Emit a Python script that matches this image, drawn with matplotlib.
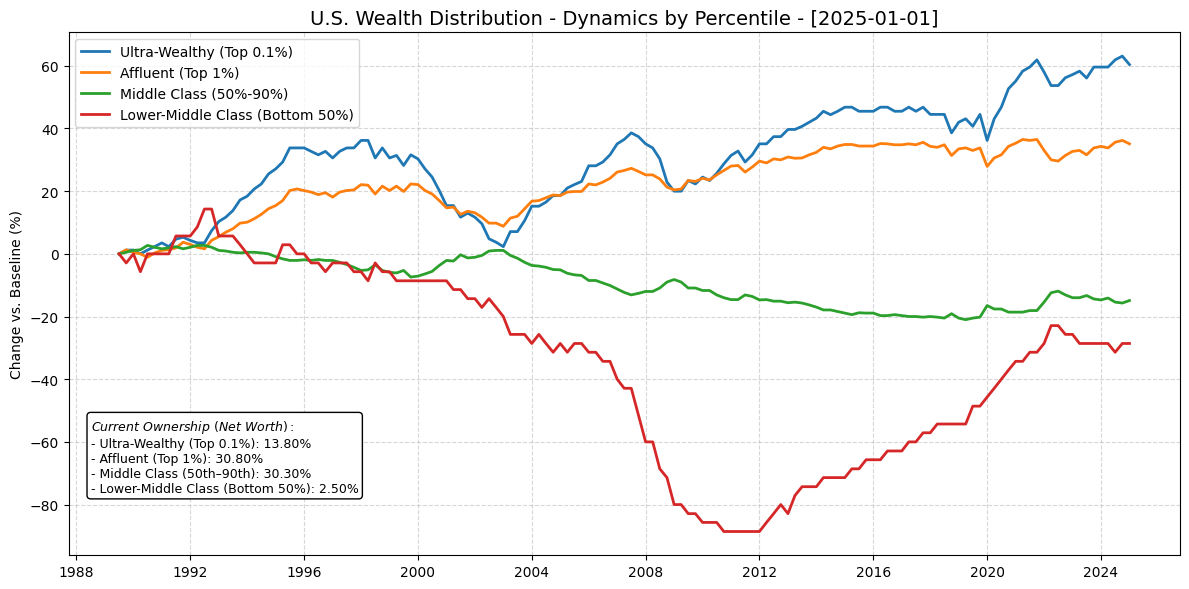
import matplotlib
matplotlib.use("Agg")
import matplotlib.pyplot as plt
import pandas as pd

start_date = "1989-07-01"
n_quarters = 143

ultra_wealthy = [0, 1.2, 1.2, 0, 1.2, 2.3, 3.5, 2.3, 4.7, 5.3,
                 4.3, 3.5, 3.5, 7.4, 10.3, 11.7, 13.8, 17.2, 18.4, 20.7,
                 22.3, 25.5, 27.1, 29.3, 33.8, 33.8, 33.8, 32.7, 31.6, 32.7,
                 30.6, 32.7, 33.8, 33.8, 36.2, 36.2, 30.6, 33.8, 30.6, 31.4,
                 28.2, 31.6, 30.3, 27.1, 24.5, 20.2, 15.4, 15.4, 11.7, 13.0,
                 11.7, 9.6, 4.8, 3.7, 2.3, 7.1, 7.1, 10.6, 15.2, 15.2,
                 16.5, 18.6, 18.6, 21.0, 22.1, 23.1, 28.1, 28.1, 29.3, 31.6,
                 35.1, 36.5, 38.6, 37.4, 35.1, 33.8, 30.3, 22.9, 20.0, 20.0,
                 23.4, 22.3, 24.5, 23.4, 25.7, 28.7, 31.4, 32.8, 29.3, 31.6,
                 35.1, 35.1, 37.4, 37.4, 39.7, 39.7, 40.7, 42.0, 43.3, 45.5,
                 44.4, 45.5, 46.8, 46.8, 45.5, 45.5, 45.5, 46.8, 46.8, 45.5,
                 45.5, 46.8, 45.5, 46.8, 44.5, 44.5, 44.5, 38.6, 42.0, 43.1,
                 40.7, 44.5, 36.2, 43.1, 46.8, 52.7, 55.1, 58.3, 59.6, 61.9,
                 58.0, 53.7, 53.7, 56.2, 57.2, 58.3, 56.1, 59.6, 59.6, 59.6,
                 61.9, 63.1, 60.4]

affluent = [0, 1.3, 0.5, 0, -1.1, 0.3, 1.1, 1.3, 1.9, 3.7,
            3.0, 2.1, 1.6, 4.3, 5.5, 6.9, 8.0, 9.8, 10.1, 11.2,
            12.6, 14.4, 15.4, 17.0, 20.2, 20.7, 20.2, 19.7, 18.9, 19.5,
            18.1, 19.7, 20.2, 20.4, 22.1, 21.9, 19.1, 21.6, 20.2, 21.6,
            19.9, 22.3, 22.1, 20.2, 19.1, 17.0, 14.7, 14.9, 12.6, 13.6,
            13.1, 11.7, 9.8, 9.8, 8.8, 11.4, 12.0, 14.4, 16.8, 17.0,
            17.9, 18.8, 18.6, 19.7, 19.9, 19.9, 22.3, 22.0, 22.9, 24.1,
            26.1, 26.6, 27.3, 26.3, 25.2, 25.2, 23.9, 21.3, 20.4, 20.7,
            23.4, 23.1, 24.1, 23.6, 25.2, 26.6, 28.0, 28.2, 26.1, 27.7,
            29.6, 29.0, 30.3, 30.0, 30.9, 30.5, 30.6, 31.6, 32.4, 34.0,
            33.5, 34.4, 34.9, 34.9, 34.4, 34.4, 34.4, 35.2, 35.1, 34.8,
            34.8, 35.1, 34.8, 35.6, 34.3, 34.0, 34.8, 31.4, 33.5, 33.8,
            33.0, 33.8, 27.9, 30.6, 31.6, 34.3, 35.3, 36.5, 36.2, 36.5,
            33.0, 30.0, 29.6, 31.4, 32.7, 33.0, 31.6, 33.8, 34.3, 33.8,
            35.6, 36.2, 35.1]

middle_class = [0, 0.5, 1.1, 1.3, 2.7, 2.1, 1.6, 1.9, 2.3, 1.6,
                2.1, 2.7, 2.7, 2.1, 1.1, 0.9, 0.5, 0.3, 0.5, 0.5,
                0.3, 0, -0.9, -1.6, -2.1, -2.1, -1.9, -2.1, -1.8, -2.1,
                -2.1, -2.7, -3.4, -4.3, -5.3, -5.1, -3.5, -5.3, -5.9, -6.1,
                -5.3, -7.4, -7.1, -6.4, -5.6, -3.7, -2.1, -2.3, -0.3, -1.3,
                -1.1, -0.5, 0.9, 1.1, 1.1, -0.5, -1.4, -2.7, -3.7, -3.9,
                -4.3, -5.0, -5.1, -6.2, -6.7, -6.9, -8.5, -8.5, -9.3, -10.1,
                -11.2, -12.3, -13.1, -12.6, -12.0, -12.0, -10.9, -9.0, -8.2, -9.0,
                -10.9, -10.9, -11.7, -11.7, -13.1, -14.0, -14.6, -14.6, -13.1, -13.6,
                -14.7, -14.6, -15.1, -15.1, -15.6, -15.4, -15.7, -16.3, -17.0, -17.9,
                -17.9, -18.4, -18.9, -19.4, -18.8, -18.9, -18.9, -19.7, -19.7, -19.4,
                -19.7, -20.0, -20.0, -20.2, -20.0, -20.2, -20.5, -19.1, -20.5, -21.0,
                -20.5, -20.2, -16.5, -17.6, -17.6, -18.6, -18.6, -18.6, -18.1, -18.1,
                -15.4, -12.4, -11.9, -13.1, -14.0, -14.0, -13.3, -14.4, -14.7, -14.1,
                -15.4, -15.7, -14.9]

lower_middle = [0, -2.9, 0, -5.7, 0, 0, 0, 0, 5.7, 5.7,
                5.7, 8.6, 14.3, 14.3, 5.7, 5.7, 5.7, 2.9, 0, -2.9,
                -2.9, -2.9, -2.9, 2.9, 2.9, 0, 0, -2.9, -2.9, -5.7,
                -2.9, -2.9, -2.9, -5.7, -5.7, -8.6, -2.9, -5.7, -5.7, -8.6,
                -8.6, -8.6, -8.6, -8.6, -8.6, -8.6, -8.6, -11.4, -11.4, -14.3,
                -14.3, -17.1, -14.3, -17.1, -20.0, -25.7, -25.7, -25.7, -28.6, -25.7,
                -28.6, -31.4, -28.6, -31.4, -28.6, -28.6, -31.4, -31.4, -34.3, -34.3,
                -40.0, -42.9, -42.9, -51.4, -60.0, -60.0, -68.6, -71.4, -80.0, -80.0,
                -82.9, -82.9, -85.7, -85.7, -85.7, -88.6, -88.6, -88.6, -88.6, -88.6,
                -88.6, -85.7, -82.9, -80.0, -82.9, -77.1, -74.3, -74.3, -74.3, -71.4,
                -71.4, -71.4, -71.4, -68.6, -68.6, -65.7, -65.7, -65.7, -62.9, -62.9,
                -62.9, -60.0, -60.0, -57.1, -57.1, -54.3, -54.3, -54.3, -54.3, -54.3,
                -48.6, -48.6, -45.7, -42.9, -40.0, -37.1, -34.3, -34.3, -31.4, -31.4,
                -28.6, -22.9, -22.9, -25.7, -25.7, -28.6, -28.6, -28.6, -28.6, -28.6,
                -31.4, -28.6, -28.6]

series_labels = ["Ultra-Wealthy (Top 0.1%)", "Affluent (Top 1%)",
                 "Middle Class (50%-90%)", "Lower-Middle Class (Bottom 50%)"]
current_shares = [13.80, 30.80, 30.30, 2.50]
share_labels = ["Ultra-Wealthy (Top 0.1%)", "Affluent (Top 1%)",
                "Middle Class (50th\u201390th)", "Lower-Middle Class (Bottom 50%)"]

dates = pd.date_range(start_date, periods=n_quarters, freq="QS")

fig, ax = plt.subplots(figsize=(12, 6), dpi=100)
for vals, lab in zip([ultra_wealthy, affluent, middle_class, lower_middle], series_labels):
    ax.plot(dates[:len(vals)], vals, linewidth=2, label=lab)

ax.set_title("U.S. Wealth Distribution - Dynamics by Percentile - [2025-01-01]", fontsize=14)
ax.set_ylabel("Change vs. Baseline (%)")
ax.grid(True, linestyle="--", alpha=0.5)
ax.legend(loc="upper left")

lines = [r"$\it{Current\ Ownership\ (Net\ Worth):}$"]
for lab, s in zip(share_labels, current_shares):
    lines.append(f"- {lab}: {s:.2f}%")
ax.text(0.02, 0.115, "\n".join(lines), transform=ax.transAxes, fontsize=9,
        va="bottom", ha="left",
        bbox=dict(boxstyle="round,pad=0.3", facecolor="white", edgecolor="black"))

fig.tight_layout()
fig.savefig("out.png", dpi=100, bbox_inches="tight")
